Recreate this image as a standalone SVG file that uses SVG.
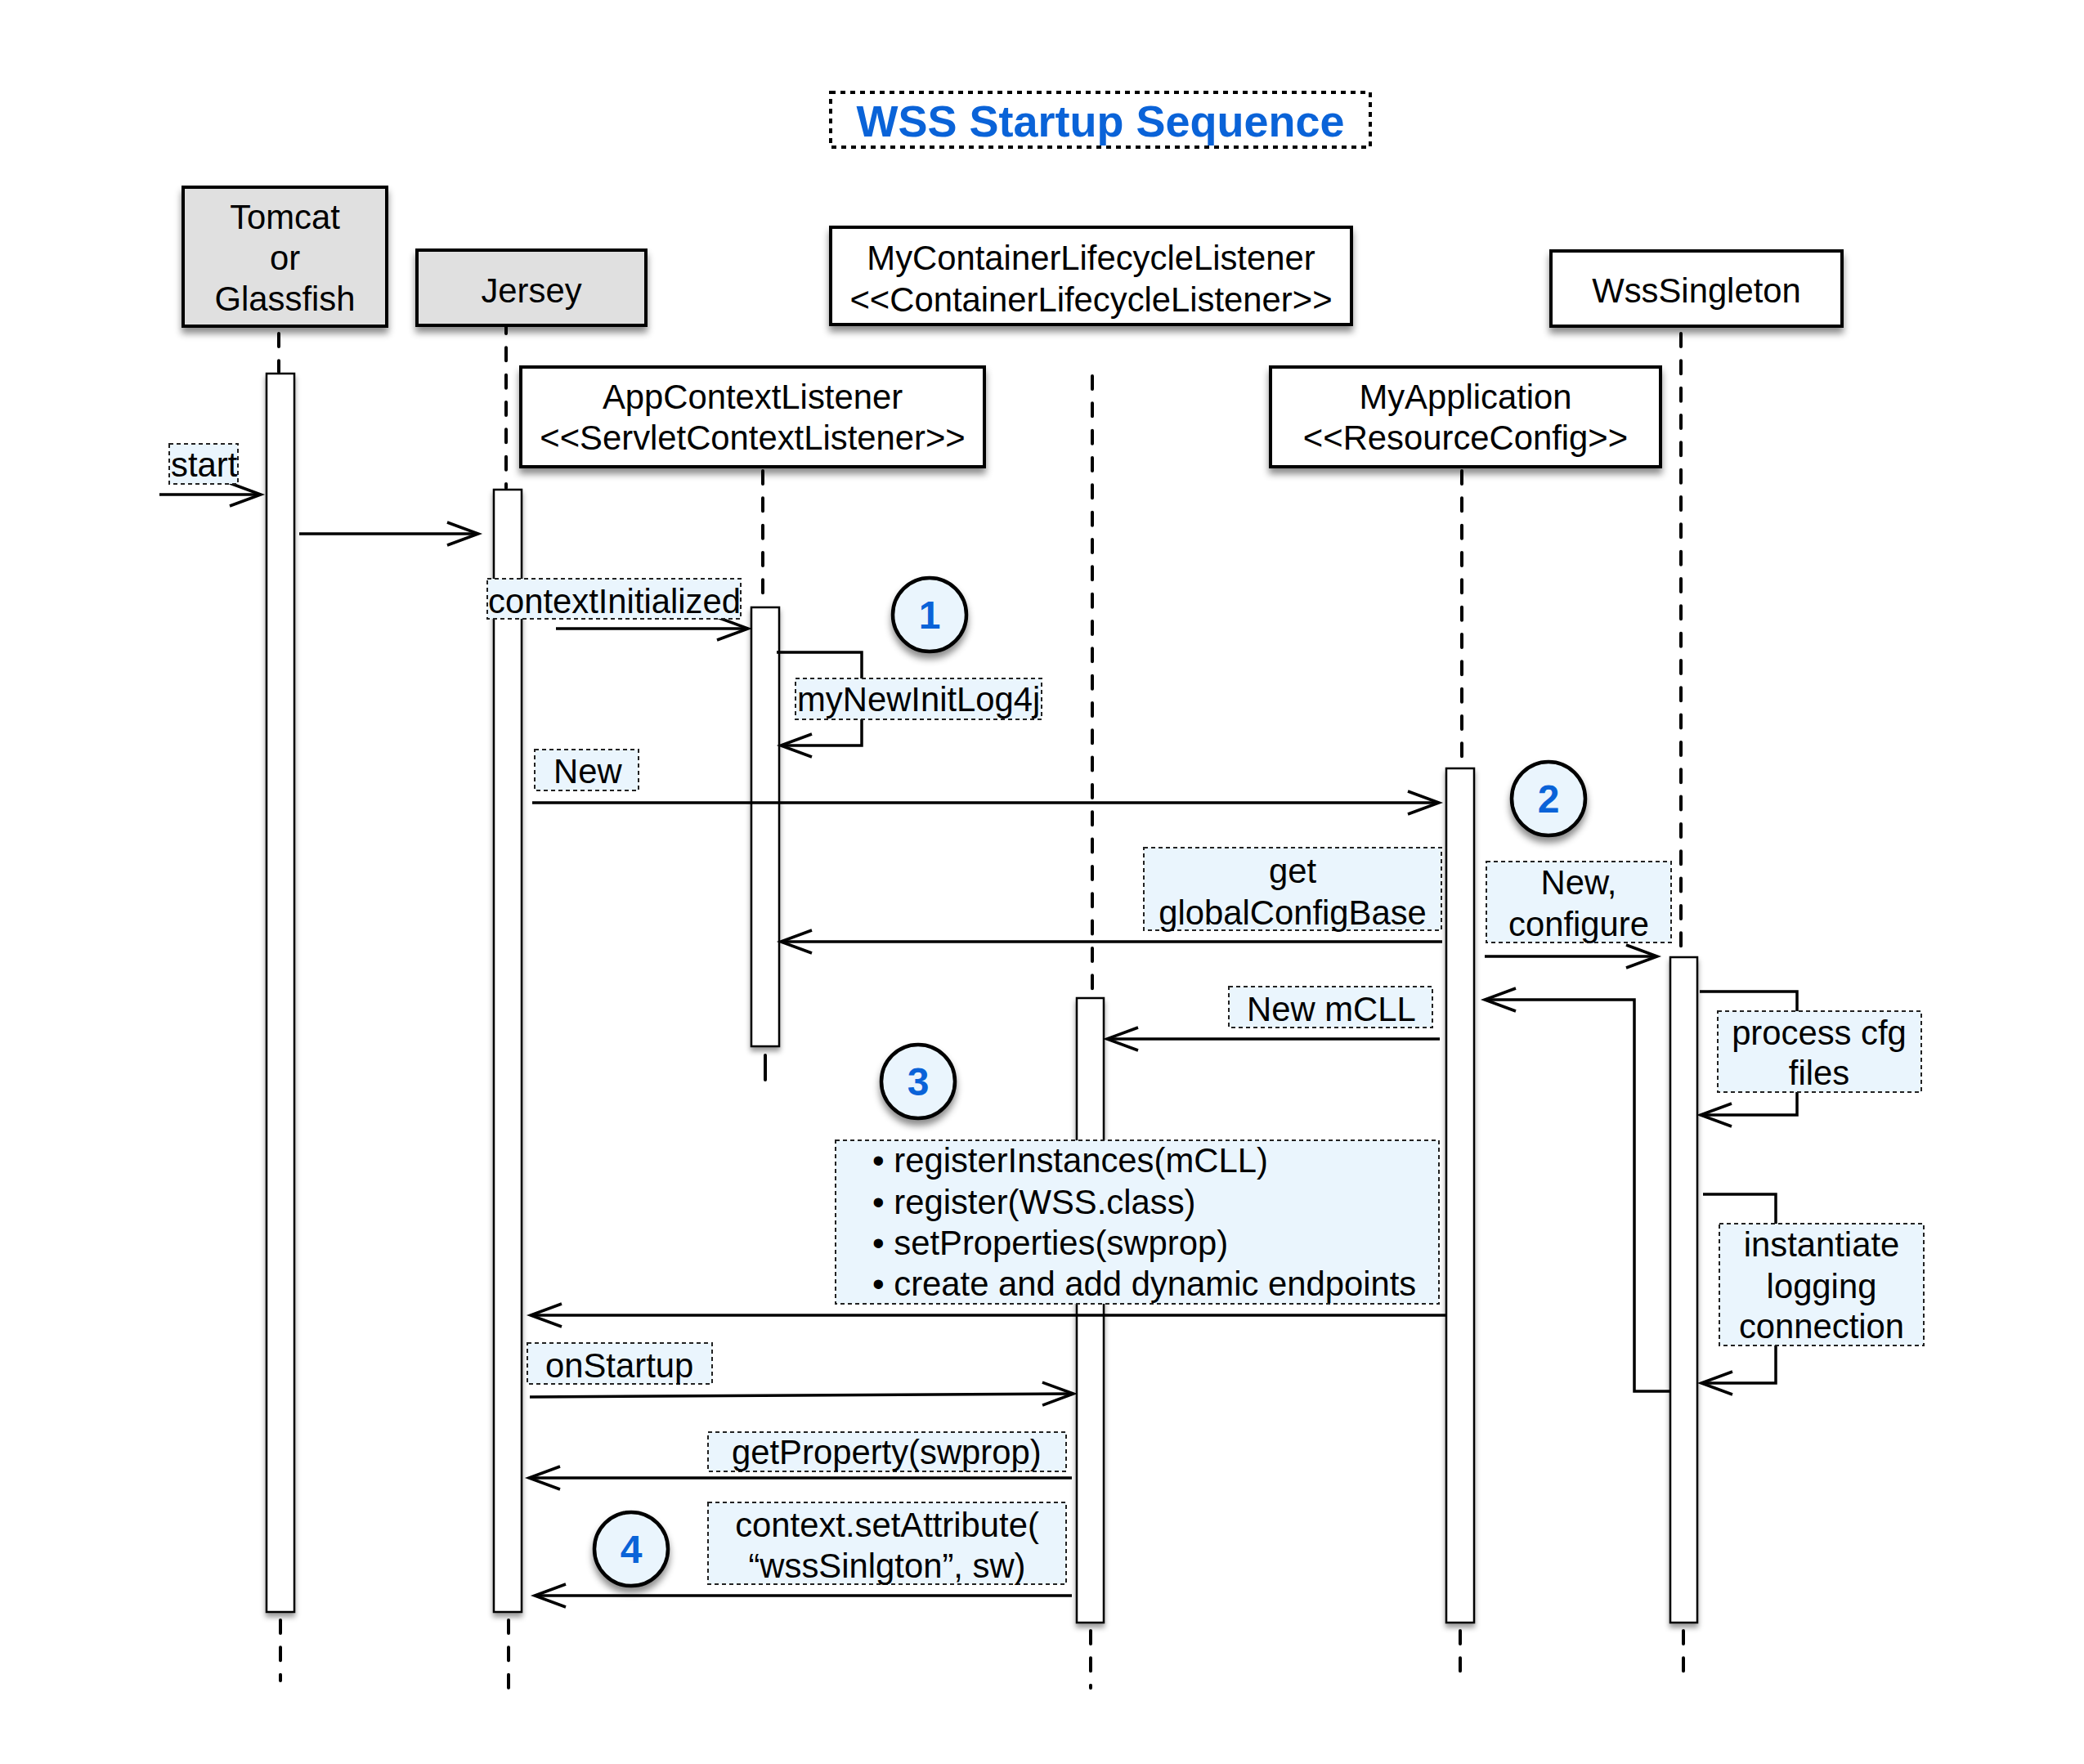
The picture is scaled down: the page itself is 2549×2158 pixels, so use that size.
<svg xmlns="http://www.w3.org/2000/svg" width="2549" height="2158" viewBox="0 0 2549 2158">
<defs>
<style>
text{font-family:"Liberation Sans",Arial,Helvetica,sans-serif;font-size:41.8px;fill:#000}
.c{text-anchor:middle}
.head{stroke:#000;stroke-width:4;filter:url(#sh)}
.gray{fill:#e0e0e0}
.white{fill:#fff}
.life{stroke:#000;stroke-width:4;stroke-linecap:round;stroke-dasharray:16 17.33;fill:none}
.act{fill:#fff;stroke:#000;stroke-width:2.5;filter:url(#sh2)}
.msg{stroke:#000;stroke-width:3.5;fill:none;marker-end:url(#open)}
.lbl{fill:#eaf5fd;stroke:#222;stroke-width:2;stroke-dasharray:5 4}
.num{fill:#eaf5fd;stroke:#000;stroke-width:4.5;filter:url(#sh)}
.numt{font-weight:bold;font-size:48px;fill:#0a63d8;text-anchor:middle}
.title{font-weight:bold;font-size:54px;fill:#0a63d8;text-anchor:middle}
</style>
<filter id="sh" x="-30%" y="-30%" width="160%" height="170%">
<feDropShadow dx="0" dy="7" stdDeviation="4" flood-color="#000" flood-opacity="0.45"/>
</filter>
<filter id="sh2" x="-40%" y="-5%" width="180%" height="110%">
<feDropShadow dx="0" dy="5" stdDeviation="3" flood-color="#000" flood-opacity="0.4"/>
</filter>
<marker id="open" markerUnits="userSpaceOnUse" markerWidth="50" markerHeight="40" viewBox="-45 -20 50 40" refX="0" refY="0" orient="auto" overflow="visible">
<path d="M-38,-14 L0,0 L-38,14" fill="none" stroke="#000" stroke-width="3.5"/>
</marker>
</defs>
<rect width="2549" height="2158" fill="#fff"/>

<g id="title">
<rect x="1016" y="113" width="660" height="67" fill="none" stroke="#000" stroke-width="4" stroke-dasharray="6 6"/>
<text x="1346" y="167" class="title">WSS Startup Sequence</text>
</g>

<g id="tomcat">
<line x1="341" y1="408" x2="341" y2="455" class="life"/>
<line x1="343" y1="1982" x2="343" y2="2056" class="life"/>
<rect x="224" y="229" width="249" height="170" class="head gray"/>
<text x="348.5" y="280" class="c">Tomcat</text>
<text x="348.5" y="330" class="c">or</text>
<text x="348.5" y="380" class="c">Glassfish</text>
<rect x="326" y="457" width="34" height="1515" class="act"/>
</g>

<g id="jersey">
<line x1="619" y1="392" x2="619" y2="597" class="life"/>
<line x1="622" y1="1982" x2="622" y2="2073" class="life"/>
<rect x="510" y="306" width="280" height="92" class="head gray"/>
<text x="650" y="370" class="c">Jersey</text>
<rect x="604" y="599" width="34" height="1373" class="act"/>
</g>

<g id="appContextListener">
<line x1="933" y1="576" x2="933" y2="741" class="life"/>
<line x1="936" y1="1291" x2="936" y2="1321" stroke="#000" stroke-width="4" stroke-linecap="round"/>
<rect x="637" y="449" width="567" height="122" class="head white"/>
<text x="920.5" y="500" class="c">AppContextListener</text>
<text x="920.5" y="550" class="c">&lt;&lt;ServletContextListener&gt;&gt;</text>
<rect x="919" y="743" width="34" height="537" class="act"/>
</g>

<g id="myContainerLifecycleListener">
<line x1="1336" y1="460" x2="1336" y2="1219" class="life"/>
<line x1="1334" y1="1995" x2="1334" y2="2065" class="life"/>
<rect x="1016" y="278" width="637" height="119" class="head white"/>
<text x="1334.5" y="330" class="c">MyContainerLifecycleListener</text>
<text x="1334.5" y="381" class="c">&lt;&lt;ContainerLifecycleListener&gt;&gt;</text>
<rect x="1317" y="1221" width="33" height="764" class="act"/>
</g>

<g id="myApplication">
<line x1="1788" y1="576" x2="1788" y2="938" class="life"/>
<line x1="1786" y1="1995" x2="1786" y2="2056" class="life"/>
<rect x="1554" y="449" width="477" height="122" class="head white"/>
<text x="1792.5" y="500" class="c">MyApplication</text>
<text x="1792.5" y="550" class="c">&lt;&lt;ResourceConfig&gt;&gt;</text>
<rect x="1769" y="940" width="34" height="1045" class="act"/>
</g>

<g id="wssSingleton">
<line x1="2056" y1="408" x2="2056" y2="1169" class="life"/>
<line x1="2059" y1="1995" x2="2059" y2="2056" class="life"/>
<rect x="1897" y="307" width="356" height="92" class="head white"/>
<text x="2075" y="370" class="c">WssSingleton</text>
<rect x="2043" y="1171" width="33" height="814" class="act"/>
</g>

<g id="connectors">
<line x1="195" y1="605" x2="319" y2="605" class="msg"/>
<line x1="366" y1="653" x2="585" y2="653" class="msg"/>
<line x1="680" y1="769" x2="915" y2="769" class="msg"/>
<polyline points="950,798 1054,798 1054,912 955,912" class="msg"/>
<line x1="651" y1="982" x2="1760" y2="982" class="msg"/>
<line x1="1764" y1="1152" x2="955" y2="1152" class="msg"/>
<line x1="1816" y1="1170" x2="2027" y2="1170" class="msg"/>
<polyline points="2043,1702 1999,1702 1999,1223 1816,1223" class="msg"/>
<line x1="1761" y1="1271" x2="1354" y2="1271" class="msg"/>
<polyline points="2079,1213 2198,1213 2198,1364 2080,1364" class="msg"/>
<polyline points="2083,1461 2172,1461 2172,1692 2081,1692" class="msg"/>
<line x1="1769" y1="1609" x2="649" y2="1609" class="msg"/>
<line x1="648" y1="1709" x2="1313" y2="1705" class="msg"/>
<line x1="1311" y1="1808" x2="647" y2="1808" class="msg"/>
<line x1="1311" y1="1952" x2="654" y2="1952" class="msg"/>
</g>

<g id="labels">
<g id="lbl-start">
<rect x="207" y="543" width="84" height="49" class="lbl"/>
<text x="209" y="583">start</text>
</g>
<g id="lbl-contextInitialized">
<rect x="596" y="708" width="310" height="49" class="lbl"/>
<text x="597" y="750">contextInitialized</text>
</g>
<g id="lbl-myNewInitLog4j">
<rect x="973" y="830" width="301" height="50" class="lbl"/>
<text x="975" y="870">myNewInitLog4j</text>
</g>
<g id="lbl-new">
<rect x="654" y="917" width="127" height="50" class="lbl"/>
<text x="677" y="958">New</text>
</g>
<g id="lbl-getGlobalConfigBase">
<rect x="1399" y="1037" width="364" height="101" class="lbl"/>
<text x="1581" y="1080" class="c">get</text>
<text x="1581" y="1131" class="c">globalConfigBase</text>
</g>
<g id="lbl-newConfigure">
<rect x="1818" y="1054" width="226" height="99" class="lbl"/>
<text x="1931" y="1094" class="c">New,</text>
<text x="1931" y="1145" class="c">configure</text>
</g>
<g id="lbl-newMCLL">
<rect x="1503" y="1207" width="249" height="50" class="lbl"/>
<text x="1525" y="1249">New mCLL</text>
</g>
<g id="lbl-processCfg">
<rect x="2101" y="1237" width="249" height="99" class="lbl"/>
<text x="2225" y="1278" class="c">process cfg</text>
<text x="2225" y="1327" class="c">files</text>
</g>
<g id="lbl-register">
<rect x="1022" y="1395" width="738" height="200" class="lbl"/>
<text x="1067" y="1434">• registerInstances(mCLL)</text>
<text x="1067" y="1485">• register(WSS.class)</text>
<text x="1067" y="1535">• setProperties(swprop)</text>
<text x="1067" y="1585">• create and add dynamic endpoints</text>
</g>
<g id="lbl-instantiate">
<rect x="2103" y="1497" width="250" height="149" class="lbl"/>
<text x="2228" y="1537" class="c">instantiate</text>
<text x="2228" y="1588" class="c">logging</text>
<text x="2228" y="1637" class="c">connection</text>
</g>
<g id="lbl-onStartup">
<rect x="645" y="1643" width="226" height="50" class="lbl"/>
<text x="667" y="1685">onStartup</text>
</g>
<g id="lbl-getProperty">
<rect x="866" y="1752" width="438" height="48" class="lbl"/>
<text x="895" y="1791">getProperty(swprop)</text>
</g>
<g id="lbl-setAttribute">
<rect x="866" y="1838" width="438" height="100" class="lbl"/>
<text x="1085" y="1880" class="c">context.setAttribute(</text>
<text x="1085" y="1930" class="c">“wssSinlgton”, sw)</text>
</g>
</g>

<g id="step1">
<circle cx="1137" cy="752" r="45" class="num"/>
<text x="1137" y="769" class="numt">1</text>
</g>
<g id="step2">
<circle cx="1894" cy="977" r="45" class="num"/>
<text x="1894" y="994" class="numt">2</text>
</g>
<g id="step3">
<circle cx="1123" cy="1323" r="45" class="num"/>
<text x="1123" y="1340" class="numt">3</text>
</g>
<g id="step4">
<circle cx="772" cy="1895" r="45" class="num"/>
<text x="772" y="1912" class="numt">4</text>
</g>
</svg>
